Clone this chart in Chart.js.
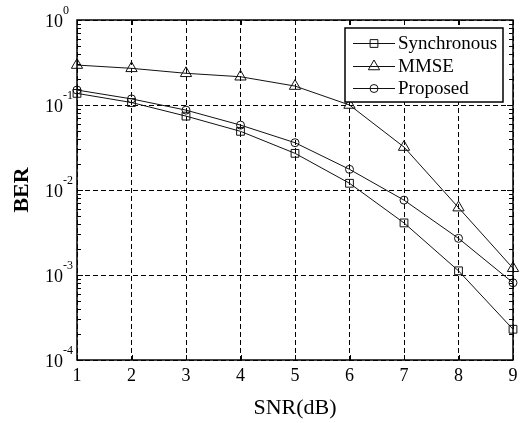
<!DOCTYPE html>
<html>
<head>
<meta charset="utf-8">
<script src="https://cdn.jsdelivr.net/npm/chart.js@4/dist/chart.umd.min.js"></script>
<style>
  html, body { margin: 0; padding: 0; background: #fff; }
  canvas { display: block; }
</style>
</head>
<body>
<canvas id="chart" width="524" height="423"></canvas>
<script>
// data
const snr = [1, 2, 3, 4, 5, 6, 7, 8, 9];
const synchronous = [0.137, 0.107, 0.074, 0.049, 0.027, 0.012, 0.0041, 0.00112, 0.00023];
const mmse = [0.295, 0.27, 0.236, 0.215, 0.167, 0.1, 0.032, 0.0062, 0.0012];
const proposed = [0.15, 0.118, 0.087, 0.058, 0.036, 0.0175, 0.0076, 0.0027, 0.00081];
const yDecades = [1e-4, 1e-3, 1e-2, 1e-1, 1];
const yExponents = ['-4', '-3', '-2', '-1', '0'];

const serif = '"Liberation Serif", "Times New Roman", serif';
const ink = '#111';

function marker(ctx, style, r, px, py) {
    ctx.beginPath();
    if (style === 'rect') {
        const s = r * Math.SQRT1_2;
        ctx.rect(px - s, py - s, 2 * s, 2 * s);
    } else if (style === 'triangle') {
        ctx.moveTo(px, py - r);
        ctx.lineTo(px + r * Math.sin(Math.PI / 3), py + r / 2);
        ctx.lineTo(px - r * Math.sin(Math.PI / 3), py + r / 2);
        ctx.closePath();
    } else {
        ctx.arc(px, py, r, 0, Math.PI * 2);
    }
    ctx.stroke();
}

const decor = {
    id: 'decor',
    afterDraw(chart) {
        const ctx = chart.ctx;
        const a = chart.chartArea;
        const x = chart.scales.x, y = chart.scales.y;
        ctx.save();
        ctx.strokeStyle = '#000';
        ctx.lineWidth = 1;
        ctx.setLineDash([]);

        // ticks on the log axes (left and right)
        ctx.beginPath();
        for (let e = -4; e < 0; e++) {
            for (let k = 1; k < 10; k++) {
                const py = Math.round(y.getPixelForValue(k * Math.pow(10, e))) + 0.5;
                const len = k === 1 ? 6 : 4;
                ctx.moveTo(a.left, py); ctx.lineTo(a.left + len, py);
                ctx.moveTo(a.right, py); ctx.lineTo(a.right - len, py);
            }
        }
        snr.forEach(v => {
            const px = Math.round(x.getPixelForValue(v)) + 0.5;
            ctx.moveTo(px, a.top); ctx.lineTo(px, a.top + 5);
            ctx.moveTo(px, a.bottom); ctx.lineTo(px, a.bottom - 5);
        });
        ctx.stroke();

        // frame
        ctx.lineWidth = 1.5;
        ctx.strokeRect(a.left, a.top, a.right - a.left, a.bottom - a.top);

        // y tick labels: 10 with exponent
        ctx.fillStyle = '#000';
        yDecades.forEach((v, i) => {
            const py = y.getPixelForValue(v);
            ctx.font = '18px ' + serif;
            ctx.textAlign = 'right';
            ctx.textBaseline = 'middle';
            ctx.fillText('10', 63, py + 2);
            ctx.font = '12px ' + serif;
            ctx.textAlign = 'left';
            ctx.fillText(yExponents[i], 63, py - 9);
        });

        // axis titles
        ctx.font = 'bold 22px ' + serif;
        ctx.textAlign = 'center';
        ctx.textBaseline = 'middle';
        ctx.save();
        ctx.translate(22, (a.top + a.bottom) / 2);
        ctx.rotate(-Math.PI / 2);
        ctx.fillText('BER', 0, 0);
        ctx.restore();
        ctx.font = '22px ' + serif;
        ctx.fillText('SNR(dB)', (a.left + a.right) / 2, 408);

        // legend
        const bx = 345, by = 28, bw = 158, bh = 74;
        ctx.fillStyle = '#fff';
        ctx.fillRect(bx, by, bw, bh);
        ctx.strokeStyle = '#000';
        ctx.lineWidth = 1.5;
        ctx.strokeRect(bx, by, bw, bh);
        const rows = [43, 66, 88];
        chart.data.datasets.forEach((ds, i) => {
            const ry = rows[i] + 0.5;
            ctx.strokeStyle = ink;
            ctx.lineWidth = 1;
            ctx.beginPath();
            ctx.moveTo(353, ry); ctx.lineTo(395, ry);
            ctx.stroke();
            marker(ctx, ds.pointStyle, ds.pointRadius, 374, ry);
            ctx.fillStyle = '#000';
            ctx.font = '19px ' + serif;
            ctx.textAlign = 'left';
            ctx.textBaseline = 'middle';
            ctx.fillText(ds.label, 398, rows[i] + 1);
        });
        ctx.restore();
    }
};

function series(label, data, style, r) {
    return {
        label: label,
        data: data,
        borderColor: ink,
        borderWidth: 1,
        pointStyle: style,
        pointRadius: r,
        pointBorderColor: ink,
        pointBorderWidth: 1,
        pointBackgroundColor: 'rgba(0,0,0,0)',
        tension: 0,
        clip: false
    };
}

new Chart(document.getElementById('chart'), {
    type: 'line',
    data: {
        labels: snr,
        datasets: [
            series('Synchronous', synchronous, 'rect', 5.5),
            series('MMSE', mmse, 'triangle', 6.5),
            series('Proposed', proposed, 'circle', 4)
        ]
    },
    options: {
        responsive: false,
        devicePixelRatio: 1,
        animation: false,
        layout: { padding: { top: 20, right: 11, left: 0, bottom: 0 } },
        plugins: { legend: { display: false }, tooltip: { enabled: false } },
        scales: {
            x: {
                type: 'linear',
                min: 1,
                max: 9,
                afterFit: s => { s.height = 63; },
                ticks: { stepSize: 1, color: '#000', padding: 5, font: { family: serif, size: 18 } },
                grid: { color: '#000', lineWidth: 1, drawTicks: false },
                border: { display: false, dash: [5, 3] }
            },
            y: {
                type: 'logarithmic',
                min: 1e-4,
                max: 1,
                afterFit: s => { s.width = 77; },
                afterBuildTicks: s => { s.ticks = yDecades.map(v => ({ value: v })); },
                ticks: { display: false },
                grid: { color: '#000', lineWidth: 1, drawTicks: false },
                border: { display: false, dash: [5, 3] }
            }
        }
    },
    plugins: [decor]
});
</script>
</body>
</html>
